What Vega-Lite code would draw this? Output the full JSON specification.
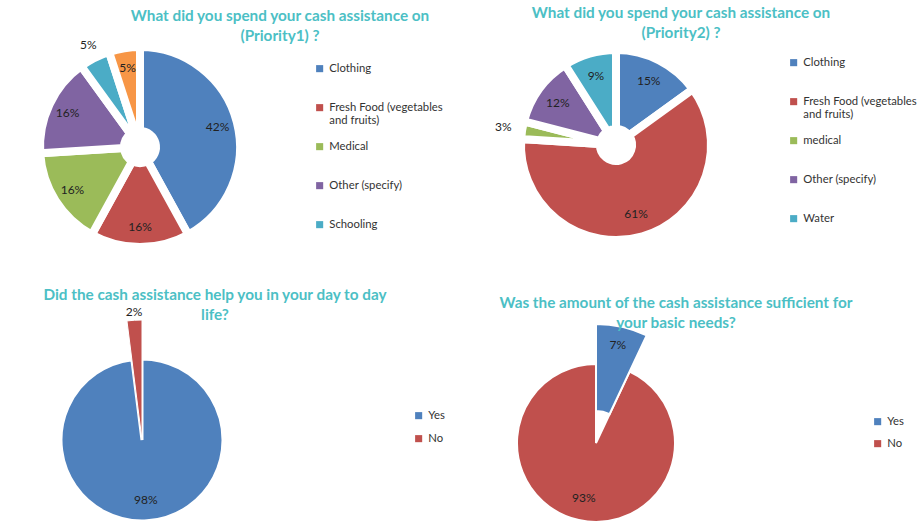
{
  "$schema": "https://vega.github.io/schema/vega-lite/v6.json",
  "background": "white",
  "padding": {"left": 22, "top": 6, "right": 0, "bottom": 0},
  "datasets": {
    "p1": [
      {"k": 1, "item": "Clothing", "pct": 0.42},
      {"k": 2, "item": "Fresh Food (vegetables and fruits)", "pct": 0.16},
      {"k": 3, "item": "Medical", "pct": 0.16},
      {"k": 4, "item": "Other (specify)", "pct": 0.16},
      {"k": 5, "item": "Schooling", "pct": 0.05},
      {"k": 6, "item": "Water", "pct": 0.05}
    ],
    "p2": [
      {"k": 1, "item": "Clothing", "pct": 0.15},
      {"k": 2, "item": "Fresh Food (vegetables and fruits)", "pct": 0.61},
      {"k": 3, "item": "medical", "pct": 0.03},
      {"k": 4, "item": "Other (specify)", "pct": 0.12},
      {"k": 5, "item": "Water", "pct": 0.09}
    ],
    "p3": [
      {"k": 1, "item": "Yes", "pct": 0.98},
      {"k": 2, "item": "No", "pct": 0.02}
    ],
    "p4": [
      {"k": 1, "item": "Yes", "pct": 0.07},
      {"k": 2, "item": "No", "pct": 0.93}
    ]
  },
  "config": {
    "view": {"stroke": null},
    "font": "Lato",
    "title": {"font": "Lato", "fontSize": 15.3, "fontWeight": "bold", "color": "#4cbfc5", "anchor": "middle", "lineHeight": 20},
    "legend": {"labelFont": "Lato", "labelFontSize": 11.3, "labelColor": "#333333", "symbolType": "square", "symbolSize": 50, "symbolStrokeWidth": 0, "padding": 0, "labelLimit": 300},
    "text": {"font": "Lato", "fontSize": 12, "color": "#222222"}
  },
  "columns": 2,
  "spacing": {"row": 111, "column": 273},
  "bounds": "flush",
  "resolve": {"scale": {"color": "independent", "theta": "independent"}, "legend": {"color": "independent"}},
  "concat": [
    {
      "width": 200, "height": 200,
      "data": {"name": "p1"},
      "title": {"text": ["What did you spend your cash assistance on", "(Priority1) ?"], "dx": 140, "offset": -16},
      "encoding": {
        "theta": {"field": "pct", "type": "quantitative", "stack": true},
        "order": {"field": "k", "type": "quantitative"},
        "color": {
          "field": "item", "type": "nominal",
          "scale": {"domain": ["Clothing", "Fresh Food (vegetables and fruits)", "Medical", "Other (specify)", "Schooling", "Water"], "range": ["#4f81bd", "#c0504d", "#9bbb59", "#8064a2", "#4bacc6", "#f79646"]},
          "legend": {"title": null, "values": ["Clothing", "Fresh Food (vegetables and fruits)", "Medical", "Other (specify)", "Schooling"], "orient": "none", "legendX": 274, "legendY": 16, "rowPadding": 13, "gridAlign": "all",
            "labelExpr": "datum.label == 'Fresh Food (vegetables and fruits)' ? ['Fresh Food (vegetables', 'and fruits)'] : datum.label"}
        }
      },
      "layer": [
        {"mark": {"type": "arc", "outerRadius": 100, "innerRadius": 16, "stroke": "white", "strokeWidth": 8, "strokeJoin": "round"}},
        {"mark": {"type": "text", "radius": 80},
         "encoding": {"text": {"condition": {"test": "datum.item == 'Schooling'", "value": ""}, "field": "pct", "type": "quantitative", "format": ".0%"}, "color": {"value": "#222222"}}},
        {"mark": {"type": "text", "radius": 114},
         "encoding": {"text": {"condition": {"test": "datum.item != 'Schooling'", "value": ""}, "field": "pct", "type": "quantitative", "format": ".0%"}, "color": {"value": "#222222"}}}
      ]
    },
    {
      "width": 198, "height": 196,
      "data": {"name": "p2"},
      "title": {"text": ["What did you spend your cash assistance on", "(Priority2) ?"], "dx": 65, "offset": -12},
      "encoding": {
        "theta": {"field": "pct", "type": "quantitative", "stack": true},
        "order": {"field": "k", "type": "quantitative"},
        "color": {
          "field": "item", "type": "nominal",
          "scale": {"domain": ["Clothing", "Fresh Food (vegetables and fruits)", "medical", "Other (specify)", "Water"], "range": ["#4f81bd", "#c0504d", "#9bbb59", "#8064a2", "#4bacc6"]},
          "legend": {"title": null, "orient": "none", "legendX": 271, "legendY": 10, "rowPadding": 13, "gridAlign": "all",
            "labelExpr": "datum.label == 'Fresh Food (vegetables and fruits)' ? ['Fresh Food (vegetables', 'and fruits)'] : datum.label"}
        }
      },
      "layer": [
        {"mark": {"type": "arc", "outerRadius": 95, "innerRadius": 16, "stroke": "white", "strokeWidth": 8, "strokeJoin": "round"}},
        {"mark": {"type": "text", "radius": 72},
         "encoding": {"text": {"condition": {"test": "datum.item == 'medical'", "value": ""}, "field": "pct", "type": "quantitative", "format": ".0%"}, "color": {"value": "#222222"}}},
        {"mark": {"type": "text", "radius": 114},
         "encoding": {"text": {"condition": {"test": "datum.item != 'medical'", "value": ""}, "field": "pct", "type": "quantitative", "format": ".0%"}, "color": {"value": "#222222"}}}
      ]
    },
    {
      "width": 204, "height": 164,
      "data": {"name": "p3"},
      "title": {"text": ["Did the cash assistance help you in your day to day", "life?"], "dx": 73, "offset": -17},
      "encoding": {
        "theta": {"field": "pct", "type": "quantitative", "stack": true},
        "order": {"field": "k", "type": "quantitative"},
        "color": {
          "field": "item", "type": "nominal",
          "scale": {"domain": ["Yes", "No"], "range": ["#4f81bd", "#c0504d"]},
          "legend": {"title": null, "orient": "none", "legendX": 373, "legendY": 52, "rowPadding": 11}
        }
      },
      "layer": [
        {"mark": {"type": "arc", "outerRadius": 81, "stroke": "white", "strokeWidth": 3},
         "encoding": {"opacity": {"condition": {"test": "datum.item == 'No'", "value": 0}, "value": 1}}},
        {"mark": {"type": "arc", "outerRadius": 120, "innerRadius": 0, "stroke": "white", "strokeWidth": 1},
         "encoding": {"opacity": {"condition": {"test": "datum.item == 'No'", "value": 1}, "value": 0}}},
        {"mark": {"type": "text", "radius": 60},
         "encoding": {"text": {"condition": {"test": "datum.item == 'No'", "value": ""}, "field": "pct", "type": "quantitative", "format": ".0%"}, "color": {"value": "#222222"}}},
        {"mark": {"type": "text", "radius": 128},
         "encoding": {"text": {"condition": {"test": "datum.item != 'No'", "value": ""}, "field": "pct", "type": "quantitative", "format": ".0%"}, "color": {"value": "#222222"}}}
      ]
    },
    {
      "width": 158, "height": 170,
      "data": {"name": "p4"},
      "title": {"text": ["Was the amount of the cash assistance sufficient for", "your basic needs?"], "dx": 80, "offset": -11},
      "encoding": {
        "theta": {"field": "pct", "type": "quantitative", "stack": true},
        "order": {"field": "k", "type": "quantitative"},
        "color": {
          "field": "item", "type": "nominal",
          "scale": {"domain": ["Yes", "No"], "range": ["#4f81bd", "#c0504d"]},
          "legend": {"title": null, "orient": "none", "legendX": 355, "legendY": 58, "rowPadding": 10}
        }
      },
      "layer": [
        {"mark": {"type": "arc", "outerRadius": 79, "stroke": "white", "strokeWidth": 2},
         "encoding": {"opacity": {"condition": {"test": "datum.item == 'Yes'", "value": 0}, "value": 1}}},
        {"mark": {"type": "arc", "outerRadius": 119, "innerRadius": 32, "stroke": "white", "strokeWidth": 2},
         "encoding": {"opacity": {"condition": {"test": "datum.item == 'Yes'", "value": 1}, "value": 0}}},
        {"mark": {"type": "text", "radius": 56},
         "encoding": {"text": {"condition": {"test": "datum.item == 'Yes'", "value": ""}, "field": "pct", "type": "quantitative", "format": ".0%"}, "color": {"value": "#222222"}}},
        {"mark": {"type": "text", "radius": 100},
         "encoding": {"text": {"condition": {"test": "datum.item != 'Yes'", "value": ""}, "field": "pct", "type": "quantitative", "format": ".0%"}, "color": {"value": "#222222"}}}
      ]
    }
  ]
}
